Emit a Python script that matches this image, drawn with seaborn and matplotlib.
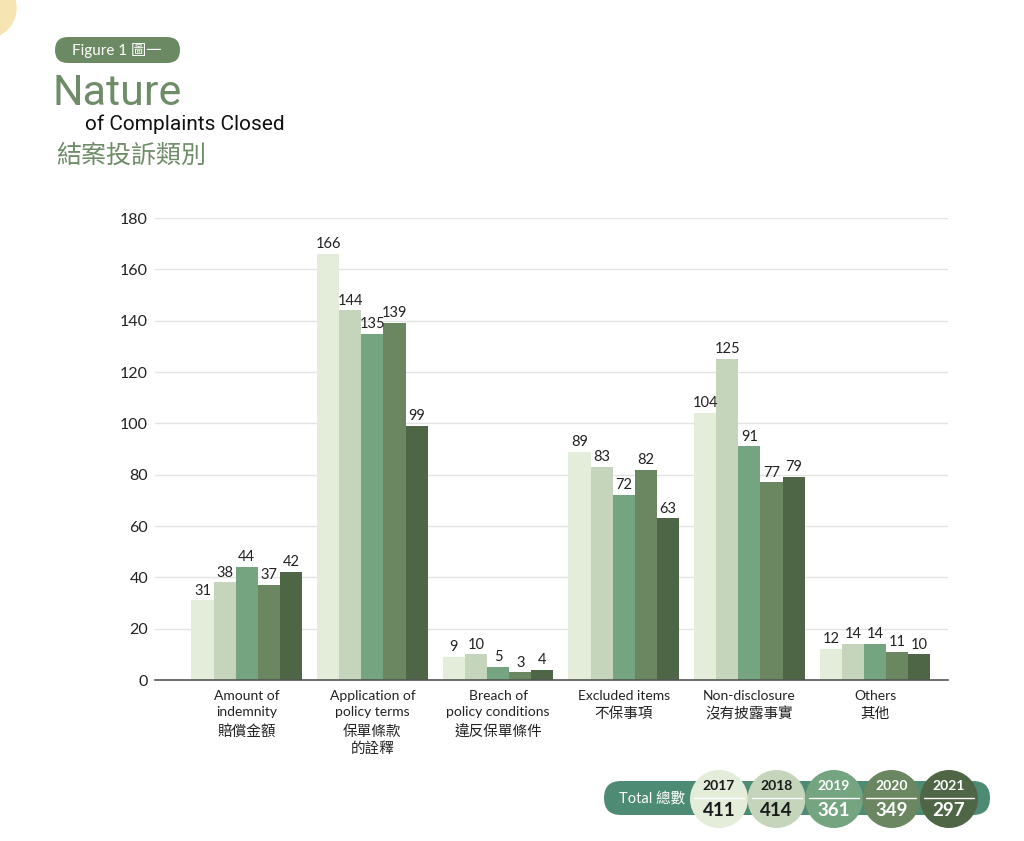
import pandas as pd
import seaborn as sns
import matplotlib.pyplot as plt
from matplotlib.patches import FancyBboxPatch, Circle

cat_en = ['Amount of\nindemnity', 'Application of\npolicy terms',
          'Breach of\npolicy conditions', 'Excluded items',
          'Non-disclosure', 'Others']
cat_zh = ['賠償金額', '保單條款\n的詮釋', '違反保單條件', '不保事項',
          '沒有披露事實', '其他']
years = ['2017', '2018', '2019', '2020', '2021']
v2017 = [31, 166, 9, 89, 104, 12]
v2018 = [38, 144, 10, 83, 125, 14]
v2019 = [44, 135, 5, 72, 91, 14]
v2020 = [37, 139, 3, 82, 77, 11]
v2021 = [42, 99, 4, 63, 79, 10]
totals = [411, 414, 361, 349, 297]

colors = ['#E3EDDA', '#C4D5BC', '#74A480', '#6A8761', '#4E6645']
text_cols = ['#1a1a1a', '#1a1a1a', 'white', 'white', 'white']

rows = []
for y, vals in zip(years, [v2017, v2018, v2019, v2020, v2021]):
    for c, v in zip(cat_en, vals):
        rows.append({'cat': c, 'year': y, 'n': v})
df = pd.DataFrame(rows)

sns.set_theme(style='white')
plt.rcParams['font.family'] = ['Lato', 'Noto Sans CJK TC', 'DejaVu Sans']

fig = plt.figure(figsize=(10.24, 8.41), dpi=100)
ax = fig.add_axes([155/1024, 1-680/841, (948-155)/1024, (680-218)/841])

sns.barplot(data=df, x='cat', y='n', hue='year', palette=colors, width=0.88,
            saturation=1, legend=False, ax=ax, zorder=3, linewidth=0)
for cont in ax.containers:
    ax.bar_label(cont, padding=2, fontsize=10.5, color='#222222')

ax.set_ylim(0, 180)
ax.set_yticks(range(0, 181, 20))
ax.set_xlim(-0.73, 5.58)
ax.grid(axis='y', color='#E3E3E3', lw=1, zorder=0)
ax.set_xlabel('')
ax.set_ylabel('')
for s in ['top', 'right', 'left']:
    ax.spines[s].set_visible(False)
ax.spines['bottom'].set_color('#555555')
ax.spines['bottom'].set_linewidth(1.2)
ax.spines['bottom'].set_zorder(4)
ax.tick_params(axis='y', length=0, labelsize=11.5, pad=5, colors='#222222')
ax.tick_params(axis='x', length=0, labelsize=10, pad=7, colors='#222222')
for lab in ax.get_xticklabels():
    lab.set_linespacing(1.4)


def px(x, y):
    return x / 100, (841 - y) / 100

tr = fig.dpi_scale_trans

# Chinese part of the category labels, under the English lines
for i, (en, zh) in enumerate(zip(cat_en, cat_zh)):
    n_en = en.count('\n') + 1
    ax.annotate(zh, xy=(i, 0), xycoords=('data', 'axes fraction'),
                xytext=(0, -(9 + 18 * n_en) * 0.72), textcoords='offset points',
                ha='center', va='top', fontsize=10.5, color='#222222',
                family=['Noto Sans CJK TC'], linespacing=1.25)

# decorative corner circle
fig.add_artist(Circle(px(-14, 8), 0.3, transform=tr, color='#F6E4B3', zorder=0))

# title block
x0, y0 = px(55, 63)
fig.add_artist(FancyBboxPatch((x0, y0), 1.25, 0.26,
                              boxstyle='round,pad=0,rounding_size=0.13',
                              transform=tr, color='#6B8A63', lw=0))
fig.text(*px(117, 50), 'Figure 1 圖一', transform=tr, ha='center', va='center',
         color='white', fontsize=11)
fig.text(*px(53, 105), 'Nature', transform=tr, ha='left', va='baseline',
         color='#6E8C67', fontsize=31, family=['Roboto'])
fig.text(*px(85, 130), 'of Complaints Closed', transform=tr, ha='left',
         va='baseline', color='#111111', fontsize=15, family=['Roboto'])
fig.text(*px(56, 163), '結案投訴類別', transform=tr, ha='left', va='baseline',
         color='#6E8C67', fontsize=18, family=['Noto Sans CJK TC'])

# totals strip
bx, by = px(604, 815)
fig.add_artist(FancyBboxPatch((bx, by), 3.86, 0.34,
                              boxstyle='round,pad=0,rounding_size=0.17',
                              transform=tr, color='#4E8B74', lw=0))
fig.text(*px(652, 798), 'Total 總數', transform=tr, ha='center', va='center',
         color='white', fontsize=10.5)
for i, (yr, tot) in enumerate(zip(years, totals)):
    cx = 719 + i * 57.5
    fig.add_artist(Circle(px(cx, 799), 0.29, transform=tr, color=colors[i], lw=0))
    fig.add_artist(plt.Line2D([(cx - 25) / 100, (cx + 25) / 100],
                              [(841 - 798) / 100] * 2, transform=tr,
                              color='white', lw=1))
    fig.text(*px(cx, 786), yr, transform=tr, ha='center', va='center',
             color=text_cols[i], fontsize=10, fontweight='bold')
    fig.text(*px(cx, 810), str(tot), transform=tr, ha='center', va='center',
             color=text_cols[i], fontsize=13.5, fontweight='bold')

fig.savefig('out.png', dpi=100)
